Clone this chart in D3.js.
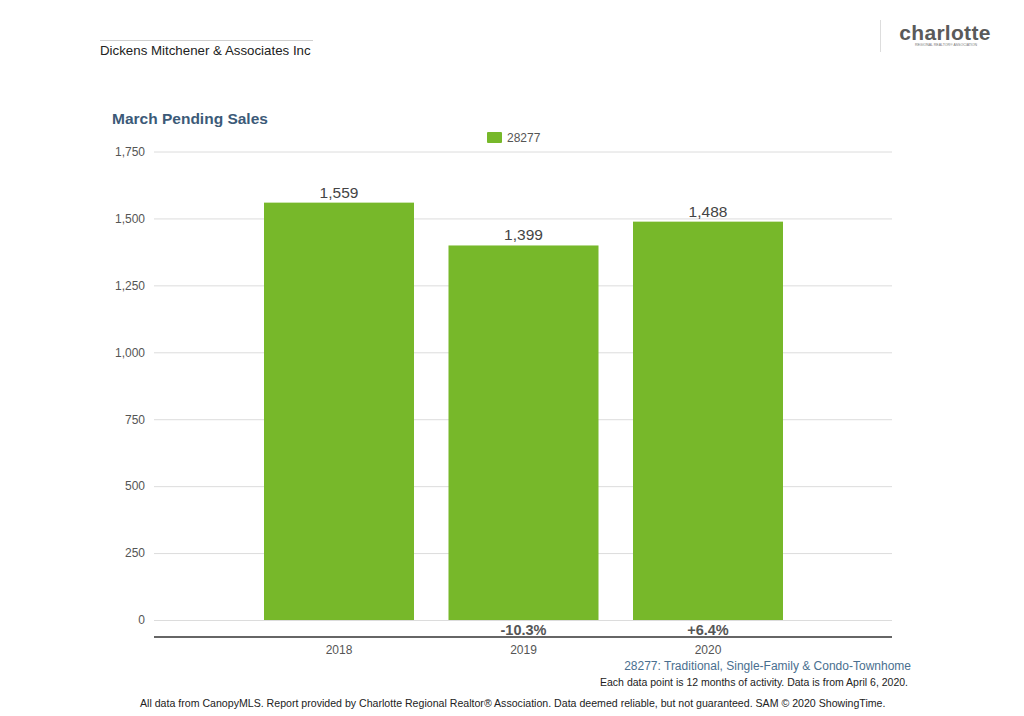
<!DOCTYPE html>
<html>
<head>
<meta charset="utf-8">
<script src="https://cdn.jsdelivr.net/npm/d3@7"></script>
<style>
  body { margin: 0; background: #fff; }
  text { font-family: "Liberation Sans", Arial, sans-serif; }
</style>
</head>
<body>
<div id="chart"></div>
<script>

// chart data
var years = ["2018", "2019", "2020"];
var pendingSales = [1559, 1399, 1488];
var changeLabels = ["", "-10.3%", "+6.4%"];
var yTicks = [0, 250, 500, 750, 1000, 1250, 1500, 1750];
var seriesName = "28277";

var width = 1024, height = 716;
var green = "#77b82a";

var svg = d3.select("#chart")
            .append("svg")
              .attr("width", width)
              .attr("height", height);

// header: agent name with thin rule above
svg.append("line")
  .attr("x1", 100).attr("x2", 313)
  .attr("y1", 40.5).attr("y2", 40.5)
  .attr("stroke", "#cfcfcf");

svg.append("text")
  .attr("x", 100).attr("y", 55)
  .attr("font-size", 13.3)
  .attr("fill", "#222")
  .text("Dickens Mitchener & Associates Inc");

// logo
svg.append("line")
  .attr("x1", 880.5).attr("x2", 880.5)
  .attr("y1", 20).attr("y2", 52)
  .attr("stroke", "#ddd");

svg.append("text")
  .attr("x", 945).attr("y", 40)
  .attr("text-anchor", "middle")
  .attr("font-size", 21)
  .attr("font-weight", "bold")
  .attr("letter-spacing", 0.3)
  .attr("fill", "#5a5a5a")
  .text("charlotte");

svg.append("text")
  .attr("x", 946).attr("y", 46)
  .attr("text-anchor", "middle")
  .attr("font-size", 3.5)
  .attr("fill", "#777")
  .text("REGIONAL REALTOR® ASSOCIATION");

// title
svg.append("text")
  .attr("x", 112).attr("y", 124)
  .attr("font-size", 15.5)
  .attr("font-weight", "bold")
  .attr("fill", "#3c5a78")
  .text("March Pending Sales");

// legend
svg.append("rect")
  .attr("x", 487).attr("y", 132)
  .attr("width", 15).attr("height", 11)
  .attr("rx", 1)
  .attr("fill", green);

svg.append("text")
  .attr("x", 507).attr("y", 142)
  .attr("font-size", 12)
  .attr("fill", "#555")
  .text(seriesName);

// scales
var x = d3.scaleBand()
          .domain(years)
          .range([246.75, 800.25])
          .paddingInner(0.187)
          .paddingOuter(0.0935);

var y = d3.scaleLinear()
          .domain([0, 1750])
          .range([620, 151.5]);

var plotLeft = 154, plotRight = 892;

// grid lines and y tick labels
var yAxis = svg.append("g")
  .attr("transform", "translate(" + plotLeft + ",0)")
  .call(d3.axisLeft(y)
          .tickValues(yTicks)
          .tickSize(-(plotRight - plotLeft))
          .tickPadding(9)
          .tickFormat(d3.format(",")));

yAxis.select(".domain").remove();
yAxis.selectAll(".tick line")
  .attr("stroke", "#dcdcdc");
yAxis.selectAll(".tick text")
  .attr("font-size", 12)
  .attr("fill", "#555")
  .style("font-family", "'Liberation Sans', Arial, sans-serif");

// bars
svg.selectAll(".bar")
  .data(years)
  .enter()
  .append("rect")
    .attr("class", "bar")
    .attr("x", function(d) { return x(d); })
    .attr("y", function(d, i) { return y(pendingSales[i]); })
    .attr("width", x.bandwidth())
    .attr("height", function(d, i) { return y(0) - y(pendingSales[i]); })
    .attr("fill", green);

// value labels above bars
svg.selectAll(".value")
  .data(years)
  .enter()
  .append("text")
    .attr("class", "value")
    .attr("x", function(d) { return x(d) + x.bandwidth() / 2; })
    .attr("y", function(d, i) { return y(pendingSales[i]) - 5; })
    .attr("text-anchor", "middle")
    .attr("font-size", 15.5)
    .attr("fill", "#444")
    .text(function(d, i) { return d3.format(",")(pendingSales[i]); });

// x axis (thick line, year labels)
var xAxis = svg.append("g")
  .attr("transform", "translate(0,637)")
  .call(d3.axisBottom(x).tickSize(0).tickPadding(8));

xAxis.select(".domain")
  .attr("d", "M" + plotLeft + ",0H" + plotRight)
  .attr("stroke", "#666")
  .attr("stroke-width", 2);
xAxis.selectAll(".tick text")
  .attr("font-size", 12)
  .attr("fill", "#555")
  .style("font-family", "'Liberation Sans', Arial, sans-serif");

// percent change labels
svg.selectAll(".change")
  .data(years)
  .enter()
  .append("text")
    .attr("class", "change")
    .attr("x", function(d) { return x(d) + x.bandwidth() / 2; })
    .attr("y", 635)
    .attr("text-anchor", "middle")
    .attr("font-size", 14.5)
    .attr("font-weight", "bold")
    .attr("fill", "#555")
    .text(function(d, i) { return changeLabels[i]; });

// footnotes
svg.append("text")
  .attr("x", 911).attr("y", 670)
  .attr("text-anchor", "end")
  .attr("font-size", 12)
  .attr("fill", "#4a6f8f")
  .text("28277: Traditional, Single-Family & Condo-Townhome");

svg.append("text")
  .attr("x", 908).attr("y", 686)
  .attr("text-anchor", "end")
  .attr("font-size", 10.5)
  .attr("fill", "#222")
  .text("Each data point is 12 months of activity. Data is from April 6, 2020.");

svg.append("text")
  .attr("x", 140).attr("y", 707)
  .attr("font-size", 10.6)
  .attr("fill", "#222")
  .text("All data from CanopyMLS. Report provided by Charlotte Regional Realtor® Association. Data deemed reliable, but not guaranteed. SAM © 2020 ShowingTime.");

</script>
</body>
</html>
